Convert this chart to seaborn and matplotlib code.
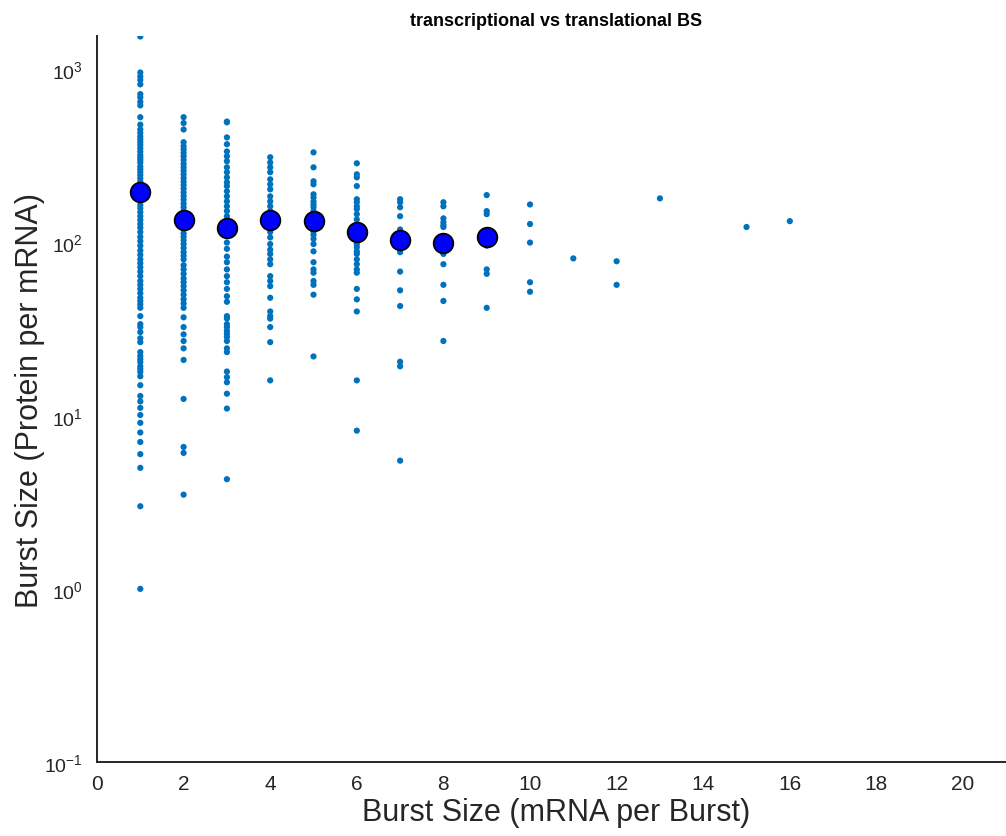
import numpy as np
import pandas as pd
import matplotlib
matplotlib.use("Agg")
import matplotlib.pyplot as plt
import matplotlib.ticker as mticker
import seaborn as sns

# ---- data: translational burst size (protein per mRNA) by transcriptional burst size ----
bs_1 = [1550, 960, 910, 870, 820, 720, 690, 650, 620, 530, 480, 450, 430, 410, 395, 380,
        365, 350, 335, 320, 310, 300, 290, 275, 265, 255, 245, 235, 225, 215, 205, 195,
        185, 175, 165, 158, 150, 142, 135, 128, 122, 115, 108, 102, 96, 90, 85, 80, 76,
        72, 68, 64, 60, 57, 54, 51, 48, 46, 44, 42, 37.6, 33.8, 32.5, 30.4, 28.0, 26.6,
        23.3, 22.1, 21.2, 20.4, 19.3, 18.6, 17.9, 16.9, 15.0, 13.0, 12.1, 11.1, 10.1,
        9.1, 8.0, 7.05, 6.0, 5.0, 3.0, 1.0]
bs_2 = [530, 490, 450, 380, 360, 345, 330, 315, 300, 285, 272, 260, 248, 236, 225, 215,
        205, 195, 186, 177, 168, 160, 152, 145, 138, 131, 125, 119, 113, 108, 103, 98,
        93, 88, 84, 80, 74, 70, 66, 62, 59, 56, 53, 50, 47, 44.5, 42, 37, 32.5, 29.5,
        27, 24.5, 21, 12.5, 6.6, 6.1, 3.5]
bs_3 = [500, 495, 405, 370, 336, 315, 295, 272, 255, 238, 223, 212, 198, 185, 173, 162,
        152, 142, 133, 123, 115, 109, 100, 92, 83, 77, 70, 64, 59, 54, 49, 45.5, 37.6,
        36.4, 33.8, 32.5, 30.9, 29.7, 28.5, 27, 24.5, 23.3, 18, 16.7, 15.6, 13.4, 11, 4.3]
bs_4 = [311, 290, 272, 255, 232, 217, 203, 185, 173, 162, 152, 142, 135, 130, 123, 115,
        107, 98, 91, 86, 80, 75, 64, 60, 56, 48, 40, 37.6, 36.4, 32.5, 26.6, 16]
bs_5 = [332, 272, 226, 217, 190, 182, 173, 166, 160, 152, 146, 140, 130, 123, 116, 111,
        105, 98, 89, 77, 70, 67, 60, 57, 50, 22]
bs_6 = [287, 248, 238, 212, 178, 171, 162, 156, 146, 136, 128, 115, 102, 98, 94, 89, 86,
        80, 75, 70, 67, 54, 47, 40, 16, 8.2]
bs_7 = [178, 171, 160, 142, 119, 111, 98, 88, 68, 53, 43, 20.5, 19.3, 5.5]
bs_8 = [171, 162, 138, 131, 126, 123, 100, 86, 75, 57, 46, 27]
bs_9 = [188, 152, 146, 109, 96, 70, 66, 42]
bs_10 = [166, 128, 100, 59, 52]
bs_11 = [81]
bs_12 = [78, 57]
bs_13 = [180]
bs_15 = [123]
bs_16 = [133]

mean_x = [1, 2, 3, 4, 5, 6, 7, 8, 9]
mean_y = [195, 135, 121, 135, 134, 115, 103, 100, 107]

groups = {1: bs_1, 2: bs_2, 3: bs_3, 4: bs_4, 5: bs_5, 6: bs_6, 7: bs_7, 8: bs_8,
          9: bs_9, 10: bs_10, 11: bs_11, 12: bs_12, 13: bs_13, 15: bs_15, 16: bs_16}
df = pd.DataFrame([(k, v) for k, vals in groups.items() for v in vals],
                  columns=["mrna", "protein"])
dfm = pd.DataFrame({"mrna": mean_x, "protein": mean_y})

sns.set_style("white")
plt.rcParams["font.family"] = ["Liberation Sans", "DejaVu Sans"]
plt.rcParams["mathtext.default"] = "regular"

W, H = 1006, 837
fig = plt.figure(figsize=(W / 100, H / 100), dpi=100)
ax = fig.add_axes([97 / W, 1 - 763 / H, (1015 - 97) / W, (763 - 37) / H])

sns.scatterplot(data=df, x="mrna", y="protein", ax=ax, color="#0072BD",
                s=20, linewidth=0, edgecolor="none", legend=False, zorder=2)
sns.scatterplot(data=dfm, x="mrna", y="protein", ax=ax, color="#0000FF",
                s=200, edgecolor="black", linewidth=1.3, legend=False, zorder=3)

ax.set_yscale("log")
ax.set_ylim(0.1, 1560)
ax.set_xlim(0, 21.2)
ax.set_xticks(np.arange(0, 21, 2))
ax.yaxis.set_major_locator(mticker.LogLocator(base=10, numticks=10))
ax.yaxis.set_minor_locator(mticker.LogLocator(base=10, subs=np.arange(2, 10), numticks=20))
ax.yaxis.set_minor_formatter(mticker.NullFormatter())

for s in ["top", "right"]:
    ax.spines[s].set_visible(False)
for s in ["left", "bottom"]:
    ax.spines[s].set_color("#262626")
    ax.spines[s].set_linewidth(1.4)

ax.tick_params(axis="both", which="major", direction="in", length=9, width=1.0,
               color="#262626", labelcolor="#262626")
ax.tick_params(axis="y", which="minor", direction="in", length=5, width=0.9, color="#262626")
ax.tick_params(axis="y", which="major", labelsize=14, pad=10)
ax.tick_params(axis="x", which="major", labelsize=15, pad=9)

ax.set_xlabel("Burst Size (mRNA per Burst)", fontsize=22, color="#262626")
ax.set_ylabel("Burst Size (Protein per mRNA)", fontsize=22, color="#262626")
ax.xaxis.set_label_coords(0.5, -0.048)
ax.yaxis.set_label_coords(-0.057, 0.5)

fig.text(556 / W, 1 - 21 / H, "transcriptional vs translational BS", ha="center",
         va="center", fontsize=13, fontweight="bold", color="black")

fig.savefig("out.png", dpi=100)
